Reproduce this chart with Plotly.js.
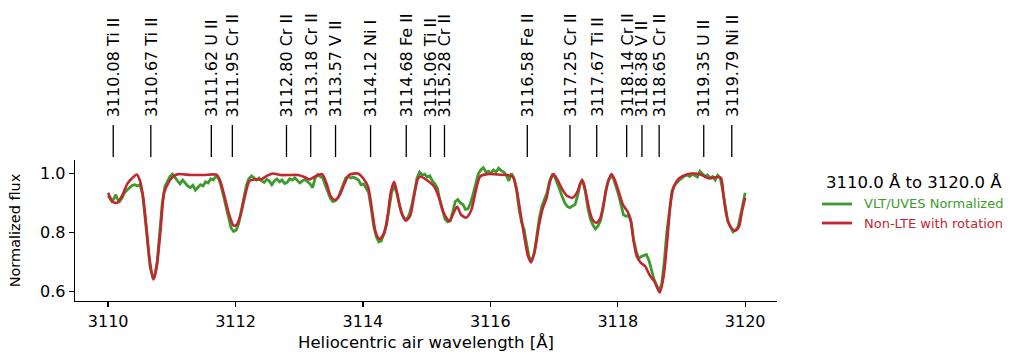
<!DOCTYPE html>
<html>
<head>
<meta charset="utf-8">
<script src="https://cdn.plot.ly/plotly-3.0.1.min.js"></script>
<style>html,body{margin:0;padding:0;background:#fff}#chart{width:1010px;height:359px}</style>
</head>
<body>
<div id="chart"></div>
<script>
// Line identifications
const lineWl = [3110.08, 3110.67, 3111.62, 3111.95, 3112.80, 3113.18, 3113.57, 3114.12, 3114.68, 3115.06, 3115.28, 3116.58, 3117.25, 3117.67, 3118.14, 3118.38, 3118.65, 3119.35, 3119.79];
const lineIons = ["Ti II", "Ti II", "U II", "Cr II", "Cr II", "Cr II", "V II", "Ni I", "Fe II", "Ti II", "Cr II", "Fe II", "Cr II", "Ti II", "Cr II", "V II", "Cr II", "U II", "Ni II"];

// Observed spectrum (VLT/UVES normalized)
const obsWl = [3110.00,3110.03,3110.06,3110.09,3110.12,3110.15,3110.18,3110.22,3110.26,3110.30,3110.34,3110.38,3110.42,3110.46,3110.50,3110.54,3110.58,3110.62,3110.66,3110.70,3110.73,3110.77,3110.81,3110.85,3110.89,3110.93,3110.97,3111.01,3111.05,3111.09,3111.13,3111.17,3111.21,3111.25,3111.29,3111.33,3111.37,3111.41,3111.45,3111.49,3111.53,3111.57,3111.61,3111.65,3111.69,3111.73,3111.77,3111.81,3111.85,3111.89,3111.93,3111.97,3112.01,3112.05,3112.09,3112.13,3112.17,3112.21,3112.25,3112.29,3112.33,3112.37,3112.41,3112.45,3112.49,3112.53,3112.57,3112.61,3112.65,3112.69,3112.73,3112.77,3112.81,3112.85,3112.89,3112.93,3112.97,3113.01,3113.05,3113.09,3113.13,3113.17,3113.21,3113.25,3113.29,3113.33,3113.37,3113.41,3113.45,3113.49,3113.53,3113.57,3113.61,3113.65,3113.69,3113.73,3113.77,3113.81,3113.85,3113.89,3113.93,3113.97,3114.01,3114.05,3114.09,3114.13,3114.17,3114.21,3114.25,3114.29,3114.33,3114.37,3114.41,3114.45,3114.49,3114.53,3114.57,3114.61,3114.65,3114.69,3114.73,3114.77,3114.81,3114.85,3114.89,3114.93,3114.97,3115.01,3115.05,3115.09,3115.13,3115.17,3115.21,3115.25,3115.29,3115.33,3115.37,3115.41,3115.45,3115.49,3115.53,3115.57,3115.61,3115.65,3115.69,3115.73,3115.77,3115.81,3115.85,3115.89,3115.93,3115.97,3116.01,3116.05,3116.09,3116.13,3116.17,3116.21,3116.25,3116.29,3116.33,3116.37,3116.41,3116.45,3116.49,3116.53,3116.57,3116.61,3116.65,3116.69,3116.73,3116.77,3116.81,3116.85,3116.89,3116.93,3116.97,3117.01,3117.05,3117.09,3117.13,3117.17,3117.21,3117.25,3117.29,3117.33,3117.37,3117.41,3117.45,3117.49,3117.53,3117.57,3117.61,3117.65,3117.69,3117.73,3117.77,3117.81,3117.85,3117.89,3117.93,3117.97,3118.01,3118.05,3118.09,3118.13,3118.17,3118.21,3118.25,3118.29,3118.33,3118.37,3118.41,3118.45,3118.49,3118.53,3118.57,3118.61,3118.65,3118.69,3118.73,3118.77,3118.81,3118.85,3118.89,3118.93,3118.97,3119.01,3119.05,3119.09,3119.13,3119.17,3119.21,3119.25,3119.29,3119.33,3119.37,3119.41,3119.45,3119.49,3119.53,3119.57,3119.61,3119.65,3119.69,3119.73,3119.77,3119.81,3119.85,3119.89,3119.93,3119.97,3120.00];
const obsFlux = [0.925,0.915,0.905,0.915,0.928,0.912,0.905,0.918,0.935,0.945,0.952,0.960,0.962,0.958,0.962,0.930,0.850,0.760,0.680,0.648,0.650,0.700,0.800,0.900,0.955,0.975,0.990,0.998,0.985,0.975,0.965,0.978,0.968,0.958,0.952,0.960,0.944,0.955,0.962,0.958,0.972,0.968,0.982,0.978,0.990,0.985,0.960,0.925,0.885,0.845,0.815,0.803,0.808,0.830,0.870,0.920,0.960,0.982,0.992,0.985,0.978,0.985,0.975,0.970,0.980,0.975,0.962,0.975,0.982,0.972,0.978,0.966,0.970,0.982,0.978,0.985,0.975,0.968,0.975,0.980,0.972,0.965,0.952,0.985,0.996,0.990,0.985,0.960,0.935,0.915,0.905,0.908,0.918,0.940,0.962,0.985,0.990,0.985,0.988,0.982,0.978,0.962,0.965,0.950,0.935,0.880,0.820,0.785,0.768,0.772,0.800,0.825,0.880,0.935,0.960,0.935,0.895,0.865,0.848,0.845,0.862,0.895,0.940,0.985,1.005,0.995,0.998,0.988,0.992,0.975,0.965,0.950,0.905,0.870,0.845,0.836,0.840,0.870,0.905,0.912,0.900,0.895,0.878,0.880,0.900,0.930,0.965,0.998,1.012,1.020,1.005,1.008,1.002,1.012,1.005,1.018,1.010,1.005,0.995,0.975,1.000,0.985,0.945,0.880,0.835,0.810,0.760,0.715,0.705,0.730,0.790,0.850,0.890,0.910,0.935,0.975,0.995,0.990,0.970,0.945,0.920,0.900,0.888,0.884,0.890,0.895,0.925,0.965,0.975,0.940,0.885,0.845,0.825,0.812,0.822,0.840,0.880,0.940,0.975,0.990,0.985,0.960,0.930,0.895,0.860,0.855,0.858,0.835,0.775,0.735,0.712,0.718,0.722,0.725,0.705,0.675,0.640,0.620,0.600,0.625,0.700,0.800,0.880,0.940,0.960,0.970,0.978,0.985,0.992,0.995,0.990,0.998,0.992,0.988,1.008,1.000,0.990,0.995,0.985,0.990,0.978,0.994,0.985,0.940,0.880,0.835,0.820,0.802,0.808,0.820,0.860,0.905,0.935];

// Non-LTE model with rotation
const modelWl = [3110.00,3110.07,3110.14,3110.22,3110.30,3110.38,3110.45,3110.50,3110.55,3110.60,3110.65,3110.71,3110.76,3110.82,3110.88,3110.95,3111.02,3111.10,3111.30,3111.50,3111.70,3111.76,3111.83,3111.90,3111.97,3112.02,3112.08,3112.15,3112.22,3112.30,3112.40,3112.50,3112.59,3112.70,3112.85,3112.98,3113.08,3113.16,3113.25,3113.36,3113.43,3113.50,3113.56,3113.63,3113.70,3113.78,3113.92,3114.00,3114.08,3114.14,3114.20,3114.26,3114.33,3114.39,3114.44,3114.49,3114.54,3114.60,3114.67,3114.74,3114.80,3114.86,3114.90,3115.00,3115.12,3115.20,3115.27,3115.36,3115.43,3115.48,3115.54,3115.62,3115.70,3115.77,3115.84,3115.95,3116.10,3116.25,3116.35,3116.41,3116.47,3116.53,3116.59,3116.64,3116.70,3116.76,3116.82,3116.88,3116.94,3116.99,3117.05,3117.12,3117.20,3117.29,3117.36,3117.44,3117.49,3117.55,3117.60,3117.66,3117.72,3117.78,3117.84,3117.90,3117.96,3118.02,3118.08,3118.15,3118.20,3118.25,3118.30,3118.36,3118.43,3118.50,3118.58,3118.66,3118.72,3118.78,3118.83,3118.88,3118.96,3119.09,3119.20,3119.30,3119.43,3119.55,3119.62,3119.66,3119.71,3119.78,3119.84,3119.90,3119.95,3120.00];
const modelFlux = [0.935,0.905,0.900,0.925,0.965,0.985,0.997,0.975,0.920,0.820,0.710,0.640,0.680,0.800,0.935,0.970,0.990,0.998,0.995,0.995,0.996,0.975,0.920,0.860,0.823,0.826,0.860,0.925,0.975,0.980,0.980,0.993,1.000,0.995,0.995,0.995,0.988,0.980,0.990,0.998,0.965,0.920,0.910,0.925,0.960,0.995,1.000,0.985,0.955,0.880,0.800,0.778,0.795,0.860,0.940,0.972,0.930,0.870,0.840,0.855,0.920,0.980,0.990,0.978,0.955,0.915,0.865,0.838,0.870,0.887,0.860,0.850,0.875,0.940,0.990,0.998,0.997,0.995,0.990,0.950,0.870,0.790,0.720,0.698,0.740,0.820,0.880,0.915,0.975,0.998,0.980,0.950,0.925,0.918,0.935,0.980,0.945,0.880,0.845,0.833,0.845,0.900,0.965,0.998,0.975,0.935,0.895,0.872,0.845,0.770,0.718,0.697,0.685,0.655,0.632,0.596,0.650,0.780,0.900,0.955,0.983,0.998,1.000,0.997,0.984,0.988,0.985,0.925,0.855,0.815,0.806,0.818,0.870,0.918];

const seriesNames = ["VLT/UVES Normalized", "Non-LTE with rotation"];
const rangeLabel = "3110.0 Å to 3120.0 Å";
const GREEN = "#3d9a2e";
const RED = "#c4262f";
const FONT = "DejaVu Sans, sans-serif";

const traces = [
  {x: obsWl, y: obsFlux, type: "scatter", mode: "lines", name: seriesNames[0],
   line: {color: GREEN, width: 2.8}},
  {x: modelWl, y: modelFlux, type: "scatter", mode: "lines", name: seriesNames[1],
   line: {color: RED, width: 2.6, shape: "spline", smoothing: 0.7}}
];

const shapes = lineWl.map(w => ({type: "line", xref: "x", yref: "paper",
  x0: w, x1: w, y0: 1.021, y1: 1.248, line: {color: "black", width: 1.3}}));
const annotations = lineWl.map((w, i) => ({xref: "x", yref: "paper", x: w, y: 1.29,
  text: w.toFixed(2) + " " + lineIons[i], showarrow: false, textangle: -90,
  xanchor: "center", yanchor: "bottom", font: {family: FONT, size: 16, color: "black"}}));

// Legend drawn beside the axes (title + two entries)
annotations.push({xref: "paper", yref: "paper", x: 1.1952, y: 0.837, text: rangeLabel,
  showarrow: false, xanchor: "center", yanchor: "middle",
  font: {family: FONT, size: 16.5, color: "black"}});
[[GREEN, 0.688], [RED, 0.553]].forEach((c, i) => {
  shapes.push({type: "line", xref: "paper", yref: "paper", x0: 1.0641, x1: 1.1068,
    y0: c[1], y1: c[1], line: {color: c[0], width: 2.8}});
  annotations.push({xref: "paper", yref: "paper", x: 1.1211, y: c[1], text: seriesNames[i],
    showarrow: false, xanchor: "left", yanchor: "middle",
    font: {family: FONT, size: 13, color: c[0]}});
});

const layout = {
  width: 1010, height: 359,
  margin: {l: 75, r: 233, t: 160, b: 58},
  paper_bgcolor: "white", plot_bgcolor: "white",
  font: {family: FONT, size: 16, color: "black"},
  showlegend: false,
  xaxis: {range: [3109.48, 3120.5], tickvals: [3110, 3112, 3114, 3116, 3118, 3120],
    ticktext: ["3110", "3112", "3114", "3116", "3118", "3120"],
    showgrid: false, zeroline: false, showline: true, linecolor: "black", linewidth: 1.3,
    ticks: "outside", ticklen: 5, tickwidth: 1.3, tickcolor: "black",
    tickfont: {family: FONT, size: 16},
    title: {text: "Heliocentric air wavelength [Å]", font: {family: FONT, size: 16.5}, standoff: 7}},
  yaxis: {range: [0.567, 1.046], tickvals: [0.6, 0.8, 1.0], ticktext: ["0.6", "0.8", "1.0"],
    showgrid: false, zeroline: false, showline: true, linecolor: "black", linewidth: 1.3,
    ticks: "outside", ticklen: 5, tickwidth: 1.3, tickcolor: "black",
    tickfont: {family: FONT, size: 16},
    title: {text: "Normalized flux", font: {family: FONT, size: 14.5}, standoff: 16}},
  shapes: shapes,
  annotations: annotations
};

Plotly.newPlot("chart", traces, layout, {displayModeBar: false, staticPlot: true});
</script>
</body>
</html>
